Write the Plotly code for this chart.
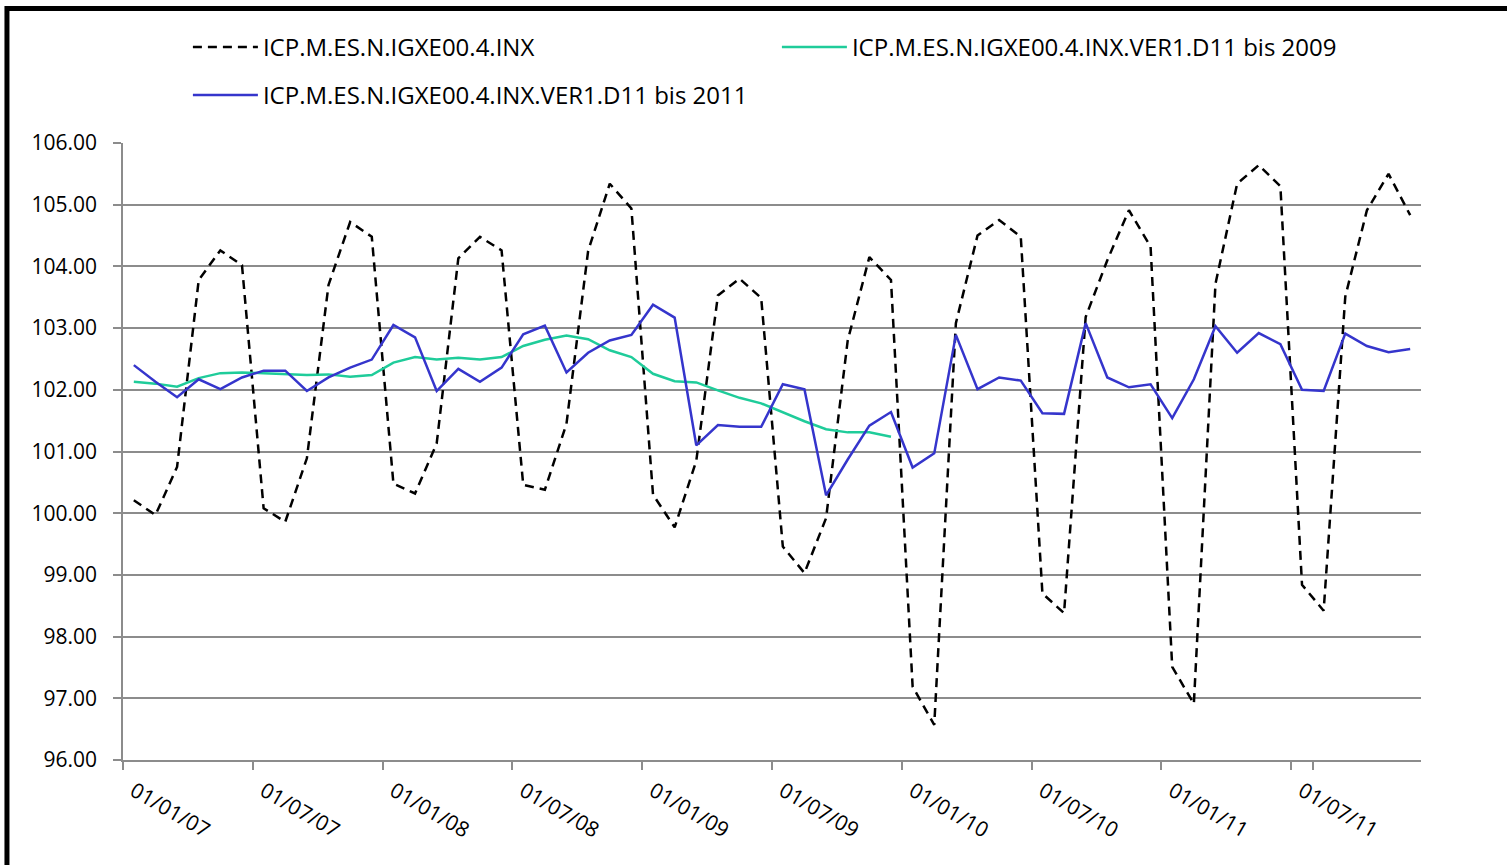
import plotly.graph_objects as go

# ---- data ----
years = ["07", "08", "09", "10", "11"]
months = ["01", "02", "03", "04", "05", "06", "07", "08", "09", "10", "11", "12"]
categories = [f"01/{m}/{y}" for y in years for m in months]

tick_labels = ["01/01/07", "01/07/07", "01/01/08", "01/07/08", "01/01/09",
               "01/07/09", "01/01/10", "01/07/10", "01/01/11", "01/07/11"]

inx = [100.21, 99.97, 100.75, 103.78, 104.26, 104.02, 100.08, 99.86, 100.89, 103.70, 104.72, 104.48,
       100.48, 100.32, 101.13, 104.13, 104.48, 104.26, 100.46, 100.38, 101.45, 104.25, 105.34, 104.94,
       100.30, 99.77, 100.85, 103.53, 103.80, 103.49, 99.46, 99.03, 99.92, 102.80, 104.15, 103.78,
       97.19, 96.57, 103.08, 104.50, 104.75, 104.48, 98.70, 98.38, 103.18, 104.10, 104.91, 104.32,
       97.51, 96.91, 103.72, 105.34, 105.64, 105.30, 98.84, 98.42, 103.51, 104.91, 105.50, 104.83]

ver_2009 = [102.13, 102.10, 102.05, 102.19, 102.27, 102.28, 102.27, 102.25, 102.24, 102.25, 102.21, 102.24,
            102.44, 102.53, 102.49, 102.52, 102.49, 102.53, 102.71, 102.81, 102.88, 102.82, 102.64, 102.53,
            102.26, 102.14, 102.12, 101.99, 101.87, 101.78, 101.63, 101.49, 101.36, 101.31, 101.31, 101.24]

ver_2011 = [102.40, 102.13, 101.88, 102.17, 102.01, 102.20, 102.31, 102.31, 101.98, 102.20, 102.36, 102.49,
            103.05, 102.85, 101.98, 102.34, 102.13, 102.36, 102.90, 103.04, 102.28, 102.60, 102.80, 102.89,
            103.38, 103.17, 101.10, 101.43, 101.40, 101.40, 102.09, 102.01, 100.29, 100.87, 101.42, 101.64,
            100.74, 100.97, 102.89, 102.01, 102.20, 102.15, 101.62, 101.61, 103.08, 102.20, 102.04, 102.09,
            101.54, 102.17, 103.03, 102.60, 102.92, 102.74, 102.00, 101.98, 102.91, 102.71, 102.61, 102.66]

y_ticks = [96, 97, 98, 99, 100, 101, 102, 103, 104, 105, 106]

names = ["ICP.M.ES.N.IGXE00.4.INX",
         "ICP.M.ES.N.IGXE00.4.INX.VER1.D11 bis 2009",
         "ICP.M.ES.N.IGXE00.4.INX.VER1.D11 bis 2011"]

FONT = "'Open Sans', Lato, sans-serif"
GRID = "#8c8c8c"

fig = go.Figure()
fig.add_trace(go.Scatter(x=categories, y=inx, mode="lines", name=names[0],
                         line=dict(color="black", width=2.5, dash="9px,6px"), legend="legend"))
fig.add_trace(go.Scatter(x=categories[:len(ver_2009)], y=ver_2009, mode="lines", name=names[1],
                         line=dict(color="#1fcc9a", width=2.5), legend="legend"))
fig.add_trace(go.Scatter(x=categories, y=ver_2011, mode="lines", name=names[2],
                         line=dict(color="#3535cc", width=2.5), legend="legend2"))

legend_font = dict(family=FONT, size=24, color="black")
fig.update_layout(
    width=1507, height=865,
    margin=dict(l=123, r=86, t=143, b=105),
    paper_bgcolor="white", plot_bgcolor="white",
    font=dict(family=FONT, size=21, color="black"),
    showlegend=True,
    legend=dict(orientation="h", x=0.050, y=1.155, xanchor="left", yanchor="middle",
                entrywidth=509, entrywidthmode="pixels", itemwidth=65,
                font=legend_font, bgcolor="rgba(0,0,0,0)"),
    legend2=dict(orientation="h", x=0.050, y=1.077, xanchor="left", yanchor="middle",
                 itemwidth=65, font=legend_font, bgcolor="rgba(0,0,0,0)"),
    xaxis=dict(type="category", categoryorder="array", categoryarray=categories,
               range=[-0.5, len(categories) - 0.5],
               tickmode="array", tickvals=categories[::6], ticktext=tick_labels,
               tickson="boundaries", showgrid=False, ticks="outside", ticklen=8,
               tickwidth=1.5, tickcolor=GRID, showline=True, linecolor=GRID, linewidth=1.5,
               tickangle=30, ticklabelstandoff=9,
               tickfont=dict(family=FONT, size=21, color="black")),
    yaxis=dict(range=[96, 106], tickmode="array", tickvals=y_ticks, tickformat=".2f",
               showgrid=True, gridcolor=GRID, gridwidth=1.5, zeroline=False,
               ticks="outside", ticklen=8, tickwidth=1.5, tickcolor=GRID,
               showline=True, linecolor=GRID, linewidth=1.5, ticklabelstandoff=12,
               tickfont=dict(family=FONT, size=21, color="black")),
    shapes=[dict(type="rect", xref="paper", yref="paper",
                 x0=-0.0894, x1=1.2, y0=-0.4, y1=1.218,
                 line=dict(color="black", width=5), fillcolor="rgba(0,0,0,0)", layer="above")],
)

fig.write_html("out.html", config={"displayModeBar": False},
               post_script="document.body.style.margin='0';")
